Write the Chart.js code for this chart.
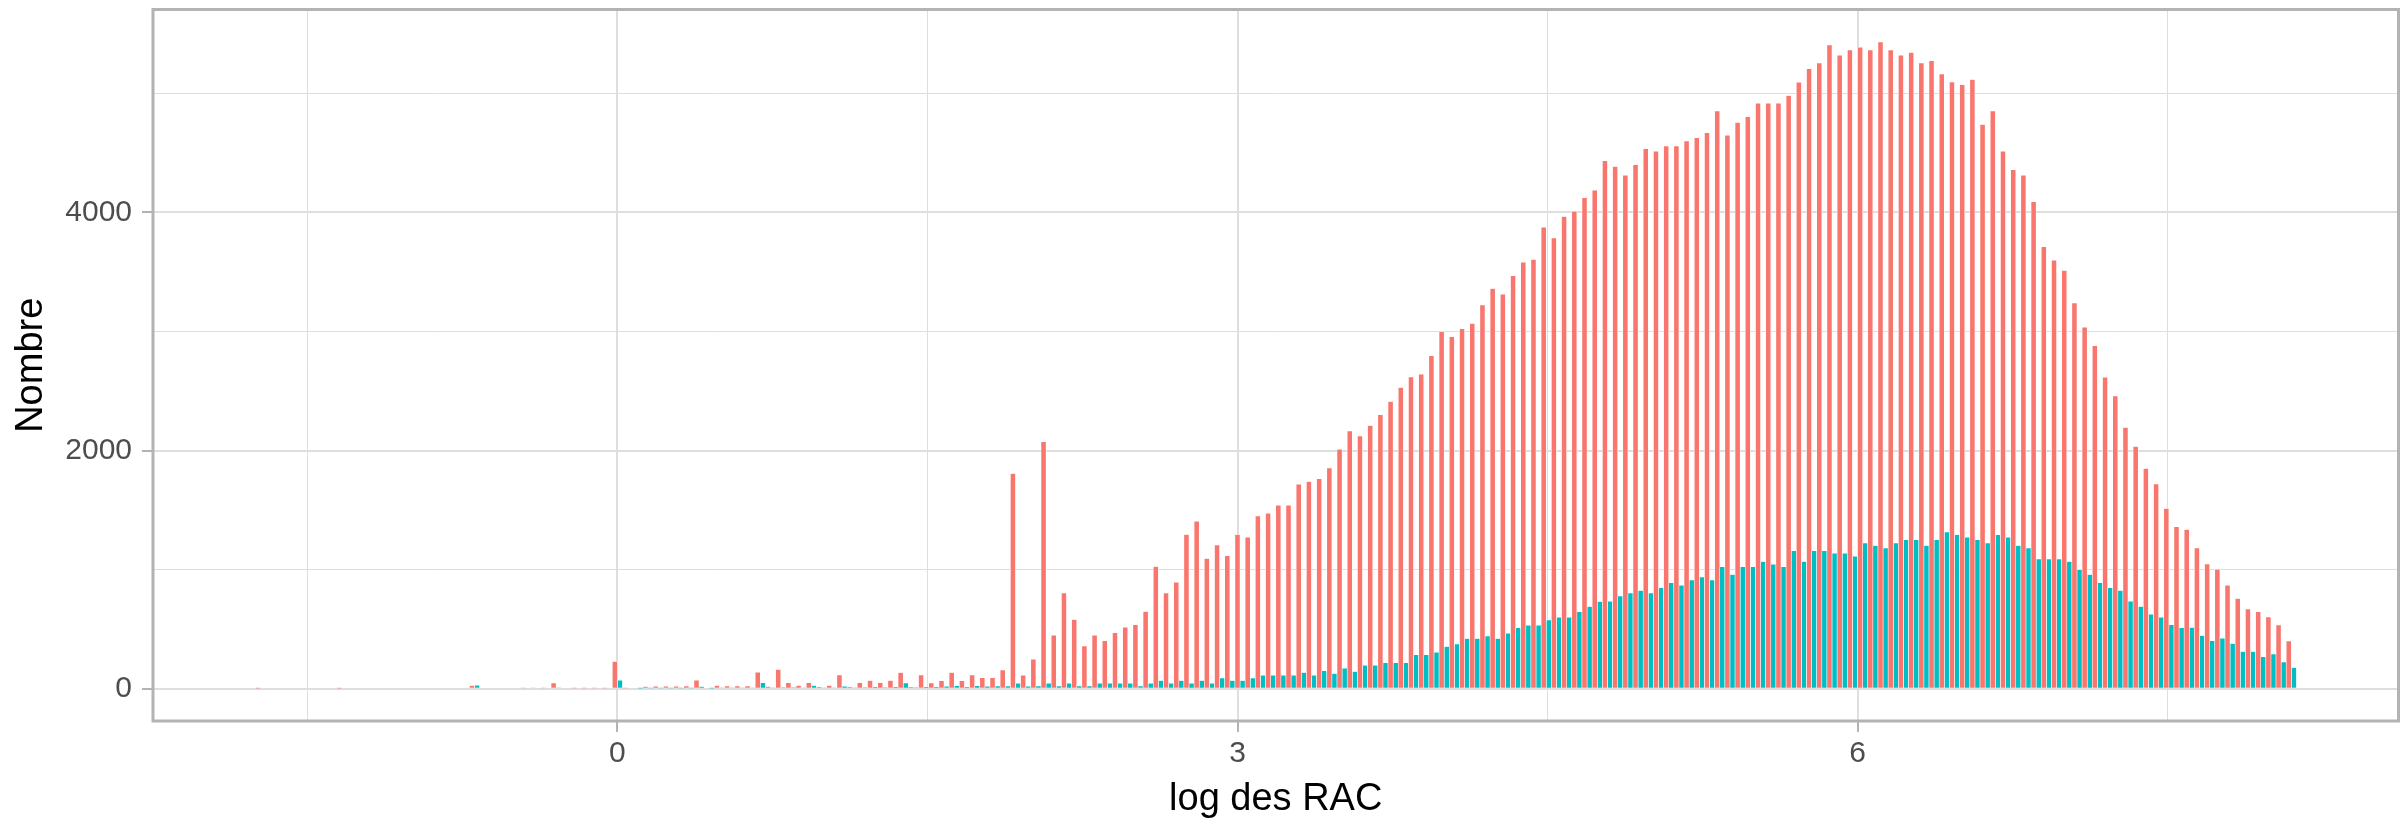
<!DOCTYPE html>
<html>
<head>
<meta charset="utf-8">
<script src="https://cdn.jsdelivr.net/npm/chart.js@4.4.1/dist/chart.umd.min.js"></script>
<style>
  html, body { margin: 0; padding: 0; background: #ffffff; }
  #wrap { width: 2404px; height: 821px; }
</style>
</head>
<body>
<div id="wrap"><canvas id="hist" width="2404" height="821"></canvas></div>
<script>
// Histogram bins (centres, log scale) and counts for the two groups
const binCenters = [
  -1.7283, -1.6789, -1.6295, -1.5802, -1.5308, -1.4814, -1.4320, -1.3826, -1.3333, -1.2839,
  -1.2345, -1.1851, -1.1357, -1.0864, -1.0370, -0.9876, -0.9382, -0.8888, -0.8395, -0.7901,
  -0.7407, -0.6913, -0.6419, -0.5926, -0.5432, -0.4938, -0.4444, -0.3950, -0.3457, -0.2963,
  -0.2469, -0.1975, -0.1481, -0.0988, -0.0494, 0.0000, 0.0494, 0.0988, 0.1481, 0.1975,
  0.2469, 0.2963, 0.3457, 0.3950, 0.4444, 0.4938, 0.5432, 0.5926, 0.6419, 0.6913,
  0.7407, 0.7901, 0.8395, 0.8888, 0.9382, 0.9876, 1.0370, 1.0864, 1.1357, 1.1851,
  1.2345, 1.2839, 1.3333, 1.3826, 1.4320, 1.4814, 1.5308, 1.5802, 1.6295, 1.6789,
  1.7283, 1.7777, 1.8271, 1.8764, 1.9258, 1.9752, 2.0246, 2.0740, 2.1233, 2.1727,
  2.2221, 2.2715, 2.3209, 2.3702, 2.4196, 2.4690, 2.5184, 2.5678, 2.6171, 2.6665,
  2.7159, 2.7653, 2.8147, 2.8640, 2.9134, 2.9628, 3.0122, 3.0616, 3.1109, 3.1603,
  3.2097, 3.2591, 3.3085, 3.3578, 3.4072, 3.4566, 3.5060, 3.5554, 3.6047, 3.6541,
  3.7035, 3.7529, 3.8023, 3.8516, 3.9010, 3.9504, 3.9998, 4.0492, 4.0985, 4.1479,
  4.1973, 4.2467, 4.2961, 4.3454, 4.3948, 4.4442, 4.4936, 4.5430, 4.5923, 4.6417,
  4.6911, 4.7405, 4.7899, 4.8392, 4.8886, 4.9380, 4.9874, 5.0368, 5.0861, 5.1355,
  5.1849, 5.2343, 5.2837, 5.3330, 5.3824, 5.4318, 5.4812, 5.5306, 5.5799, 5.6293,
  5.6787, 5.7281, 5.7775, 5.8268, 5.8762, 5.9256, 5.9750, 6.0244, 6.0737, 6.1231,
  6.1725, 6.2219, 6.2713, 6.3206, 6.3700, 6.4194, 6.4688, 6.5182, 6.5675, 6.6169,
  6.6663, 6.7157, 6.7651, 6.8144, 6.8638, 6.9132, 6.9626, 7.0120, 7.0613, 7.1107,
  7.1601, 7.2095, 7.2589, 7.3082, 7.3576, 7.4070, 7.4564, 7.5058, 7.5551, 7.6045,
  7.6539, 7.7033, 7.7527, 7.8020, 7.8514, 7.9008, 7.9502, 7.9996, 8.0489, 8.0983
];

const countsRed = [
  2, 0, 0, 0, 0, 0, 0, 0, 2, 0,
  0, 0, 0, 0, 0, 0, 0, 0, 0, 0,
  0, 25, 0, 0, 0, 0, 4, 5, 4, 47,
  8, 3, 3, 4, 3, 228, 3, 8, 18, 20,
  20, 20, 22, 70, 8, 25, 22, 22, 22, 137,
  18, 160, 48, 25, 48, 15, 25, 114, 15, 48,
  67, 48, 67, 135, 15, 113, 46, 65, 135, 65,
  113, 90, 90, 157, 1806, 112, 246, 2073, 447, 803,
  580, 358, 447, 402, 469, 514, 536, 647, 1026, 803,
  892, 1294, 1405, 1093, 1205, 1115, 1294, 1271, 1450, 1472,
  1539, 1539, 1717, 1739, 1763, 1853, 2010, 2164, 2121, 2210,
  2300, 2411, 2528, 2616, 2640, 2796, 2997, 2955, 3021, 3066,
  3222, 3360, 3312, 3468, 3580, 3604, 3874, 3784, 3964, 4009,
  4123, 4186, 4432, 4385, 4312, 4400, 4534, 4512, 4556, 4556,
  4599, 4625, 4668, 4850, 4646, 4755, 4802, 4915, 4915, 4915,
  4980, 5093, 5205, 5253, 5405, 5318, 5363, 5385, 5363, 5431,
  5363, 5319, 5341, 5253, 5273, 5162, 5094, 5072, 5116, 4737,
  4850, 4513, 4357, 4312, 4088, 3710, 3597, 3510, 3238, 3035,
  2879, 2614, 2458, 2193, 2033, 1848, 1718, 1513, 1360, 1337,
  1181, 1047, 1002, 868, 757, 668, 645, 601, 534, 400
];

const countsTeal = [
  0, 0, 0, 0, 0, 0, 0, 0, 0, 0,
  0, 0, 0, 0, 0, 0, 0, 0, 0, 0,
  0, 28, 0, 0, 0, 0, 0, 0, 0, 5,
  0, 0, 0, 0, 0, 70, 0, 2, 3, 3,
  3, 3, 3, 18, 2, 5, 5, 5, 5, 48,
  5, 10, 10, 5, 25, 5, 5, 20, 5, 10,
  15, 10, 15, 46, 10, 15, 15, 20, 24, 15,
  24, 20, 22, 22, 45, 20, 22, 45, 22, 45,
  22, 22, 45, 45, 45, 45, 22, 45, 67, 45,
  67, 45, 67, 45, 89, 67, 67, 89, 111, 111,
  111, 111, 134, 111, 150, 126, 171, 144, 195, 195,
  216, 216, 216, 285, 285, 306, 354, 375, 420, 420,
  441, 420, 465, 510, 531, 531, 576, 600, 600, 645,
  690, 732, 733, 778, 802, 824, 802, 846, 889, 868,
  911, 937, 911, 1024, 958, 1024, 1024, 1067, 1045, 1024,
  1158, 1067, 1158, 1158, 1136, 1136, 1111, 1223, 1202, 1180,
  1223, 1249, 1249, 1202, 1249, 1314, 1292, 1271, 1249, 1223,
  1292, 1271, 1202, 1180, 1089, 1089, 1089, 1067, 998, 958,
  889, 846, 824, 733, 690, 624, 599, 535, 510, 513,
  446, 401, 423, 379, 312, 312, 267, 290, 223, 178
];

// Axis ticks: labelled (major) and unlabelled (minor) positions
const xMajorTicks = [0, 3, 6];
const xMinorTicks = [-1.5, 1.5, 4.5, 7.5];
const yMajorTicks = [0, 2000, 4000];
const yMinorTicks = [1000, 3000, 5000];

const xTitle = 'log des RAC';
const yTitle = 'Nombre';

const FONT = "'Liberation Sans', Arial, Helvetica, sans-serif";
const GRID = '#DEDEDE';
const FRAME = '#B3B3B3';

const toPoints = counts => binCenters.map((x, i) => ({ x: x, y: counts[i] }));

// Grey frame around the plotting panel, drawn over the bars
const panelFrame = {
  id: 'panelFrame',
  afterDatasetsDraw(chart) {
    const { ctx, chartArea: a } = chart;
    ctx.save();
    ctx.strokeStyle = FRAME;
    ctx.lineWidth = 3;
    ctx.strokeRect(a.left, a.top, a.right - a.left, a.bottom - a.top);
    ctx.restore();
  }
};

const allTicks = (major, minor) => major.concat(minor).sort((a, b) => a - b).map(v => ({ value: v }));

// Keep tick-label overhang from shifting the panel edges
const noOverhang = s => { s.paddingTop = 0; s.paddingBottom = 0; s.paddingLeft = 0; s.paddingRight = 0; };

new Chart(document.getElementById('hist'), {
  type: 'bar',
  data: {
    datasets: [
      {
        label: 'A',
        data: toPoints(countsRed),
        backgroundColor: '#F8766D',
        borderColor: '#FFFFFF',
        borderWidth: { top: 0.5, left: 0.6, right: 0.6, bottom: 0 },
        borderSkipped: 'start',
        categoryPercentage: 1,
        barPercentage: 1
      },
      {
        label: 'B',
        data: toPoints(countsTeal),
        backgroundColor: '#00BFC4',
        borderColor: '#FFFFFF',
        borderWidth: { top: 0.5, left: 0.6, right: 0.6, bottom: 0 },
        borderSkipped: 'start',
        categoryPercentage: 1,
        barPercentage: 1
      }
    ]
  },
  options: {
    responsive: false,
    animation: false,
    devicePixelRatio: 1,
    layout: { padding: { left: 0, right: 5.5, top: 9.5, bottom: 0 } },
    plugins: {
      legend: { display: false },
      tooltip: { enabled: false }
    },
    scales: {
      x: {
        type: 'linear',
        offset: false,
        min: -2.2468,
        max: 8.6168,
        afterBuildTicks: s => { s.ticks = allTicks(xMajorTicks, xMinorTicks); },
        afterFit: s => { s.height = 100; noOverhang(s); },
        border: { display: false },
        grid: {
          offset: false,
          color: GRID,
          lineWidth: c => (c.tick && xMajorTicks.includes(c.tick.value)) ? 2 : 1,
          drawTicks: true,
          tickLength: 11,
          tickWidth: 2,
          tickColor: c => (c.tick && xMajorTicks.includes(c.tick.value)) ? FRAME : 'rgba(0,0,0,0)'
        },
        ticks: {
          autoSkip: false,
          maxRotation: 0,
          padding: 3.5,
          color: '#4D4D4D',
          font: { family: FONT, size: 30 },
          callback: v => xMajorTicks.includes(v) ? String(v) : ''
        },
        title: {
          display: true,
          text: xTitle,
          color: '#000000',
          font: { family: FONT, size: 38 },
          padding: { top: 0, bottom: -1 }
        }
      },
      y: {
        type: 'linear',
        min: -271.6,
        max: 5703.6,
        afterBuildTicks: s => { s.ticks = allTicks(yMajorTicks, yMinorTicks); },
        afterFit: s => { s.width = 153; noOverhang(s); },
        border: { display: false },
        grid: {
          color: GRID,
          lineWidth: c => (c.tick && yMajorTicks.includes(c.tick.value)) ? 2 : 1,
          drawTicks: true,
          tickLength: 11,
          tickWidth: 2,
          tickColor: c => (c.tick && yMajorTicks.includes(c.tick.value)) ? FRAME : 'rgba(0,0,0,0)'
        },
        ticks: {
          autoSkip: false,
          padding: 10,
          color: '#4D4D4D',
          font: { family: FONT, size: 30 },
          callback: v => yMajorTicks.includes(v) ? String(v) : ''
        },
        title: {
          display: true,
          text: yTitle,
          color: '#000000',
          font: { family: FONT, size: 38 },
          padding: { top: 9, bottom: 0 }
        }
      }
    }
  },
  plugins: [panelFrame]
});
</script>
</body>
</html>
